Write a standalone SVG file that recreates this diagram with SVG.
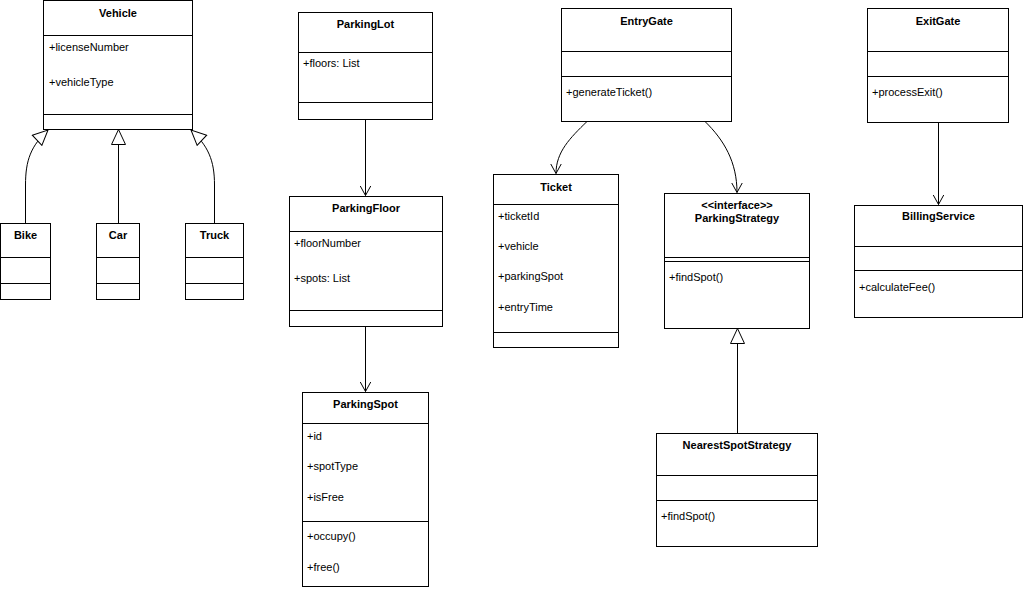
<svg xmlns="http://www.w3.org/2000/svg" width="1024" height="590" viewBox="0 0 1024 590">
<style>
.box{fill:#fff;stroke:#000;stroke-width:1}
.ln{stroke:#000;stroke-width:1;fill:none}
.t{font-family:"Liberation Sans",Arial,sans-serif;font-size:11px;font-weight:bold;text-anchor:middle;fill:#000}
.a{font-family:"Liberation Sans",Arial,sans-serif;font-size:11px;fill:#000}
.edge{stroke:#000;stroke-width:1;fill:none}
</style>
<defs>
<marker id="open" markerWidth="12" markerHeight="12" refX="10" refY="6" orient="auto" markerUnits="userSpaceOnUse">
<path d="M0,0.5 L10,6 L0,11.5" fill="none" stroke="#000" stroke-width="1"/>
</marker>
<marker id="inh" markerWidth="18" markerHeight="16" refX="16" refY="8" orient="auto" markerUnits="userSpaceOnUse">
<path d="M1,1 L16,8 L1,15 Z" fill="#fff" stroke="#000" stroke-width="1"/>
</marker>
</defs>
<rect width="1024" height="590" fill="#fff"/>

<g id="connectors">
<path class="edge" d="M25.5,223 L25.5,185 C25.5,160 31,146 48,130" marker-end="url(#inh)"/>
<path class="edge" d="M118.5,223 L118.5,129.5" marker-end="url(#inh)"/>
<path class="edge" d="M214.5,223 L214.5,185 C214.5,160 208,146 191,130" marker-end="url(#inh)"/>
<path class="edge" d="M365.5,119 L365.5,195.5" marker-end="url(#open)"/>
<path class="edge" d="M365.5,326 L365.5,391.5" marker-end="url(#open)"/>
<path class="edge" d="M587,121.5 C570,138 556,152 556,173.5" marker-end="url(#open)"/>
<path class="edge" d="M705,121.5 C724,140 737,162 737,192.5" marker-end="url(#open)"/>
<path class="edge" d="M737.5,433 L737.5,328.5" marker-end="url(#inh)"/>
<path class="edge" d="M938.5,122 L938.5,204.5" marker-end="url(#open)"/>
</g>

<g id="Vehicle">
<rect class="box" x="43.5" y="0.5" width="149" height="129"/>
<line class="ln" x1="43.5" y1="35.5" x2="192.5" y2="35.5"/>
<line class="ln" x1="43.5" y1="114.5" x2="192.5" y2="114.5"/>
<text class="t" x="118" y="17">Vehicle</text>
<text class="a" x="49" y="51">+licenseNumber</text>
<text class="a" x="49" y="86">+vehicleType</text>
</g>

<g id="Bike">
<rect class="box" x="0.5" y="223.5" width="50" height="76"/>
<line class="ln" x1="0.5" y1="257.5" x2="50.5" y2="257.5"/>
<line class="ln" x1="0.5" y1="283.5" x2="50.5" y2="283.5"/>
<text class="t" x="25.5" y="239">Bike</text>
</g>

<g id="Car">
<rect class="box" x="96.5" y="223.5" width="43" height="76"/>
<line class="ln" x1="96.5" y1="257.5" x2="139.5" y2="257.5"/>
<line class="ln" x1="96.5" y1="283.5" x2="139.5" y2="283.5"/>
<text class="t" x="118" y="239">Car</text>
</g>

<g id="Truck">
<rect class="box" x="185.5" y="223.5" width="58" height="76"/>
<line class="ln" x1="185.5" y1="257.5" x2="243.5" y2="257.5"/>
<line class="ln" x1="185.5" y1="283.5" x2="243.5" y2="283.5"/>
<text class="t" x="214.5" y="239">Truck</text>
</g>

<g id="ParkingLot">
<rect class="box" x="298.5" y="12.5" width="134" height="107"/>
<line class="ln" x1="298.5" y1="52.5" x2="432.5" y2="52.5"/>
<line class="ln" x1="298.5" y1="102.5" x2="432.5" y2="102.5"/>
<text class="t" x="365.5" y="28">ParkingLot</text>
<text class="a" x="303" y="67">+floors: List</text>
</g>

<g id="ParkingFloor">
<rect class="box" x="289.5" y="196.5" width="153" height="130"/>
<line class="ln" x1="289.5" y1="231.5" x2="442.5" y2="231.5"/>
<line class="ln" x1="289.5" y1="310.5" x2="442.5" y2="310.5"/>
<text class="t" x="366" y="212">ParkingFloor</text>
<text class="a" x="294" y="247">+floorNumber</text>
<text class="a" x="294" y="282">+spots: List</text>
</g>

<g id="ParkingSpot">
<rect class="box" x="302.5" y="392.5" width="126" height="194"/>
<line class="ln" x1="302.5" y1="423.5" x2="428.5" y2="423.5"/>
<line class="ln" x1="302.5" y1="521.5" x2="428.5" y2="521.5"/>
<text class="t" x="365.5" y="408">ParkingSpot</text>
<text class="a" x="307" y="440">+id</text>
<text class="a" x="307" y="470">+spotType</text>
<text class="a" x="307" y="501">+isFree</text>
<text class="a" x="307" y="540">+occupy()</text>
<text class="a" x="307" y="571">+free()</text>
</g>

<g id="EntryGate">
<rect class="box" x="561.5" y="8.5" width="170" height="113"/>
<line class="ln" x1="561.5" y1="51.5" x2="731.5" y2="51.5"/>
<line class="ln" x1="561.5" y1="76.5" x2="731.5" y2="76.5"/>
<text class="t" x="646.5" y="25">EntryGate</text>
<text class="a" x="566" y="96">+generateTicket()</text>
</g>

<g id="Ticket">
<rect class="box" x="493.5" y="174.5" width="125" height="173"/>
<line class="ln" x1="493.5" y1="204.5" x2="618.5" y2="204.5"/>
<line class="ln" x1="493.5" y1="332.5" x2="618.5" y2="332.5"/>
<text class="t" x="556" y="191">Ticket</text>
<text class="a" x="498" y="220">+ticketId</text>
<text class="a" x="498" y="250">+vehicle</text>
<text class="a" x="498" y="280">+parkingSpot</text>
<text class="a" x="498" y="311">+entryTime</text>
</g>

<g id="ParkingStrategy">
<rect class="box" x="664.5" y="193.5" width="145" height="135"/>
<line class="ln" x1="664.5" y1="257.5" x2="809.5" y2="257.5"/>
<line class="ln" x1="664.5" y1="261.5" x2="809.5" y2="261.5"/>
<text class="t" x="737" y="209">&lt;&lt;interface&gt;&gt;</text>
<text class="t" x="737" y="222">ParkingStrategy</text>
<text class="a" x="669" y="281">+findSpot()</text>
</g>

<g id="NearestSpotStrategy">
<rect class="box" x="656.5" y="433.5" width="161" height="113"/>
<line class="ln" x1="656.5" y1="475.5" x2="817.5" y2="475.5"/>
<line class="ln" x1="656.5" y1="500.5" x2="817.5" y2="500.5"/>
<text class="t" x="737" y="449">NearestSpotStrategy</text>
<text class="a" x="661" y="520">+findSpot()</text>
</g>

<g id="ExitGate">
<rect class="box" x="867.5" y="8.5" width="141" height="114"/>
<line class="ln" x1="867.5" y1="51.5" x2="1008.5" y2="51.5"/>
<line class="ln" x1="867.5" y1="76.5" x2="1008.5" y2="76.5"/>
<text class="t" x="938" y="25">ExitGate</text>
<text class="a" x="872" y="96">+processExit()</text>
</g>

<g id="BillingService">
<rect class="box" x="854.5" y="205.5" width="168" height="112"/>
<line class="ln" x1="854.5" y1="246.5" x2="1022.5" y2="246.5"/>
<line class="ln" x1="854.5" y1="270.5" x2="1022.5" y2="270.5"/>
<text class="t" x="938.5" y="220">BillingService</text>
<text class="a" x="859" y="291">+calculateFee()</text>
</g>
</svg>
